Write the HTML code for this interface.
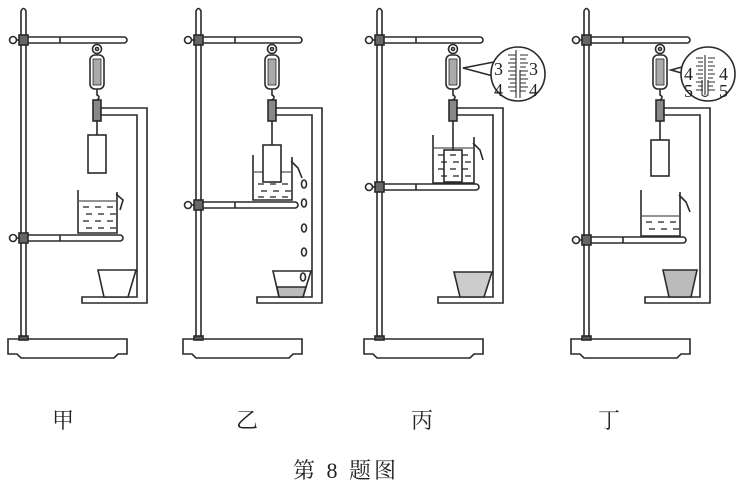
<!DOCTYPE html>
<html><head><meta charset="utf-8"><style>
html,body{margin:0;padding:0;background:#fff;}
svg{display:block;}
text{font-family:"Liberation Serif","Noto Serif CJK SC",serif;fill:#222;}
</style></head><body>
<svg width="752" height="493" viewBox="0 0 752 493" xmlns="http://www.w3.org/2000/svg">
<defs>
<g id="common" stroke="#2a2a2a" stroke-width="1.6" fill="#fff">
  <path d="M21,340 V11 Q23.5,6 26,11 V340 Z"/>
  <path d="M8,339 H127 V354 H118 L114,358 H21 L17,354 H8 Z"/>
  <rect x="19" y="336" width="9" height="4" fill="#555"/>
  <rect x="26" y="37" width="101" height="6" rx="3"/>
  <line x1="60" y1="37" x2="60" y2="43"/>
  <rect x="19" y="35" width="9" height="10" fill="#666"/>
  <circle cx="13" cy="40" r="3.5"/>
  <line x1="16" y1="40" x2="20" y2="40"/>
  <circle cx="97" cy="49" r="4.5"/>
  <circle cx="97" cy="49" r="1.5"/>
  <rect x="90" y="55" width="14" height="34" rx="5"/>
  <rect x="93" y="59" width="8" height="26" fill="#aaa" stroke-width="0.8"/>
  <path d="M97,89 V95 Q101,97 97,100" fill="none"/>
  <rect x="93" y="100" width="8" height="21" fill="#888"/>
  <path d="M101,108 H147 V303 H82 V297 H137 V115 H101 Z"/>
</g>
<g id="clamp2" stroke="#2a2a2a" stroke-width="1.6" fill="#fff">
  <rect x="19" y="-5" width="9" height="10" fill="#666"/>
  <circle cx="13" cy="0" r="3.5"/>
  <line x1="16" y1="0" x2="20" y2="0"/>
</g>
<g id="dashes" stroke="#2a2a2a" stroke-width="1.3">
  <line x1="0" y1="0" x2="6" y2="0"/><line x1="12" y1="0" x2="18" y2="0"/><line x1="24" y1="0" x2="30" y2="0"/>
</g>
</defs>

<g>
  <use href="#common"/>
  <g stroke="#2a2a2a" stroke-width="1.6" fill="#fff">
    <line x1="97" y1="121" x2="97" y2="135"/>
    <rect x="88" y="135" width="18" height="38"/>
    <rect x="26" y="235" width="97" height="6" rx="3"/>
    <line x1="60" y1="235" x2="60" y2="241"/>
    <path d="M78,190 V233 H117 V192" fill="none"/>
    <path d="M116,194 L123,200 L120,210" fill="none"/>
    <path d="M98,270 H136 L128,297 H104 Z"/>
  </g>
  <line x1="79" y1="201" x2="116" y2="201" stroke="#2a2a2a" stroke-width="1.1"/>
  <use href="#dashes" x="83" y="207"/><use href="#dashes" x="86" y="214"/><use href="#dashes" x="83" y="221"/><use href="#dashes" x="86" y="228"/>
  <use href="#clamp2" x="0" y="238"/>
</g>

<g transform="translate(175,0)">
  <use href="#common"/>
  <g stroke="#2a2a2a" stroke-width="1.6" fill="#fff">
    <line x1="97" y1="121" x2="97" y2="145"/>
    <path d="M78,155 V200 H117 V157" fill="none"/>
    <line x1="79" y1="172" x2="116" y2="172" stroke-width="1.1"/>
    <rect x="88" y="145" width="18" height="37"/>
    <path d="M116,161 L123,168 L127,178" fill="none"/>
    <rect x="26" y="202" width="97" height="6" rx="3"/>
    <line x1="60" y1="202" x2="60" y2="208"/>
    <path d="M98,271 H136 L128,297 H104 Z"/>
    <path d="M102,287 H131 L128,297 H104 Z" fill="#bbb"/>
    <ellipse cx="129" cy="184" rx="2.5" ry="4"/>
    <ellipse cx="129" cy="203" rx="2.5" ry="4"/>
    <ellipse cx="129" cy="228" rx="2.5" ry="4"/>
    <ellipse cx="129" cy="252" rx="2.5" ry="4"/>
    <ellipse cx="128" cy="277" rx="2.5" ry="4"/>
  </g>
  <use href="#dashes" x="83" y="184"/><use href="#dashes" x="86" y="191"/><use href="#dashes" x="83" y="197"/>
  <use href="#clamp2" x="0" y="205"/>
</g>

<g transform="translate(356,0)">
  <use href="#common"/>
  <g stroke="#2a2a2a" stroke-width="1.6" fill="#fff">
    <path d="M77,135 V183 H118 V137" fill="none"/>
    <line x1="78" y1="148" x2="117" y2="148" stroke-width="1.1"/>
    <path d="M117,143 L124,150 L127,160" fill="none"/>
    <line x1="97" y1="121" x2="97" y2="150"/>
    <rect x="88" y="150" width="18" height="32" fill="none"/>
    <rect x="26" y="184" width="97" height="6" rx="3"/>
    <line x1="60" y1="184" x2="60" y2="190"/>
    <path d="M98,272 H136 L128,297 H104 Z" fill="#ccc"/>
    <path d="M138,62 L107,68 L137,76" />
    <circle cx="162" cy="74" r="27"/>
    <line x1="160" y1="50" x2="160" y2="98" stroke-width="1.1"/>
    <line x1="164" y1="70" x2="164" y2="98" stroke-width="1.1"/>
  </g>
  <g stroke="#2a2a2a" stroke-width="1.1">
    <path d="M152,55h8 M154,59h6 M152,63h8 M154,67h6 M152,71h8 M154,75h6 M152,79h8 M154,83h6 M152,87h8 M154,91h6 M164,55h8 M164,59h6 M164,63h8 M164,67h6 M164,71h8 M164,75h6 M164,79h8 M164,83h6 M164,87h8 M164,91h6"/>
  </g>
  <use href="#dashes" x="82" y="155"/><use href="#dashes" x="85" y="162"/><use href="#dashes" x="82" y="169"/><use href="#dashes" x="85" y="176"/>
  <text x="138" y="75" font-size="18">3</text><text x="173" y="75" font-size="18">3</text>
  <text x="138" y="96" font-size="18">4</text><text x="173" y="96" font-size="18">4</text>
  <use href="#clamp2" x="0" y="187"/>
</g>

<g transform="translate(563,0)">
  <use href="#common"/>
  <g stroke="#2a2a2a" stroke-width="1.6" fill="#fff">
    <line x1="97" y1="121" x2="97" y2="140"/>
    <rect x="88" y="140" width="18" height="36"/>
    <path d="M78,190 V236 H117 V192" fill="none"/>
    <line x1="79" y1="216" x2="116" y2="216" stroke-width="1.1"/>
    <path d="M116,195 L123,202 L127,212" fill="none"/>
    <rect x="26" y="237" width="97" height="6" rx="3"/>
    <line x1="60" y1="237" x2="60" y2="243"/>
    <path d="M100,270 H134 L128,297 H106 Z" fill="#bbb"/>
    <path d="M137,62 L108,70 L136,78" />
    <circle cx="145" cy="74" r="27"/>
    <path d="M139,80 V95 Q142,98 145,95 V80" fill="none" stroke-width="1.1"/>
  </g>
  <g stroke="#2a2a2a" stroke-width="1.1">
    <path d="M133,58h7 M135,62h5 M133,66h7 M135,70h5 M133,74h7 M135,78h5 M133,82h7 M135,86h5 M133,90h7 M145,58h7 M145,62h5 M145,66h7 M145,70h5 M145,74h7 M145,78h5 M145,82h7 M145,86h5 M145,90h7 M142,55v40"/>
  </g>
  <use href="#dashes" x="83" y="222"/><use href="#dashes" x="86" y="229"/>
  <text x="121" y="80" font-size="18">4</text><text x="156" y="80" font-size="18">4</text>
  <text x="121" y="97" font-size="18">5</text><text x="156" y="97" font-size="18">5</text>
  <use href="#clamp2" x="0" y="240"/>
</g>

<text x="52" y="428" font-size="22">甲</text>
<text x="236" y="428" font-size="22">乙</text>
<text x="411" y="428" font-size="22">丙</text>
<text x="598" y="428" font-size="22">丁</text>
<text x="293" y="478" font-size="22" letter-spacing="3">第 8 题图</text>
</svg>
</body></html>
